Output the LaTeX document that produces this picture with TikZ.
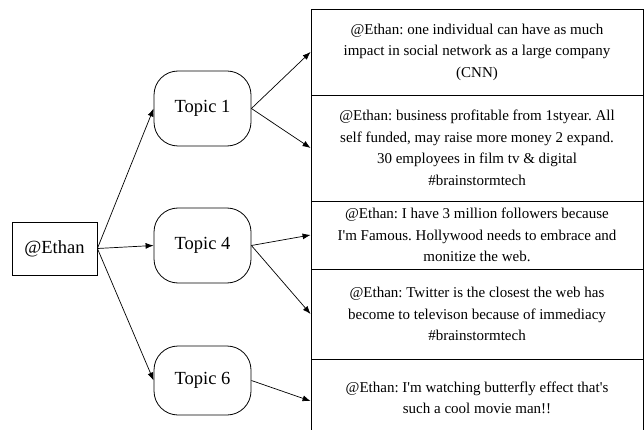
\documentclass[tikz,border=0pt]{standalone}
\usepackage{fontspec}
\setmainfont{Liberation Serif}
\usetikzlibrary{arrows.meta}
\frenchspacing

\tikzset{
  user/.style={draw, line width=0.8pt, minimum width=85pt, minimum height=53pt,
    inner sep=0pt, font=\fontsize{18.5}{22}\selectfont},
  topic/.style={draw, line width=0.8pt, rounded corners=24pt, minimum width=97pt,
    minimum height=75pt, inner sep=0pt, font=\fontsize{18.5}{22}\selectfont},
  tweet/.style={draw, line width=0.9pt, minimum width=332pt, inner sep=0pt,
    align=center, font=\fontsize{15}{21.5}\selectfont},
  link/.style={line width=0.7pt, -{Latex[length=8pt,width=6pt]}}
}
\newcommand{\ap}{\textquotesingle}

\begin{document}
\begin{tikzpicture}[x=1pt, y=-1pt]
  \useasboundingbox (0,0) rectangle (644,430);

  % author
  \node[user] (ethan) at (54.5,248.5) {@Ethan};

  % topics
  \node[topic] (t1) at (202.5,108.5) {Topic 1};
  \node[topic] (t4) at (202.5,245.5) {Topic 4};
  \node[topic, minimum height=69pt] (t6) at (202.5,380.5) {Topic 6};

  % tweets, stacked in one column
  \node[tweet, minimum height=86pt] (w1) at (477,52) {@Ethan: one individual can have as much\\impact in social network as a large company\\(CNN)};
  \node[tweet, minimum height=106pt] (w2) at (477,148) {@Ethan: business profitable from 1styear. All\\self funded, may raise more money 2 expand.\\30 employees in film tv \& digital\\\#brainstormtech};
  \node[tweet, minimum height=68pt] (w3) at (477,235) {@Ethan: I have 3 million followers because\\I\ap m Famous. Hollywood needs to embrace and\\monitize the web.};
  \node[tweet, minimum height=90pt] (w4) at (477,314) {@Ethan: Twitter is the closest the web has\\become to televison because of immediacy\\\#brainstormtech};
  \node[tweet, minimum height=78pt] (w5) at (477,398) {@Ethan: I\ap m watching butterfly effect that\ap s\\such a cool movie man!!};

  % connectors
  \draw[link] (ethan.east) -- (t1.west);
  \draw[link] (ethan.east) -- (t4.west);
  \draw[link] (ethan.east) -- (t6.west);
  \draw[link] (t1.east) -- (w1.west);
  \draw[link] (t1.east) -- (w2.west);
  \draw[link] (t4.east) -- (w3.west);
  \draw[link] (t4.east) -- (w4.west);
  \draw[link] (t6.east) -- ([yshift=-3pt]w5.west);
\end{tikzpicture}
\end{document}
